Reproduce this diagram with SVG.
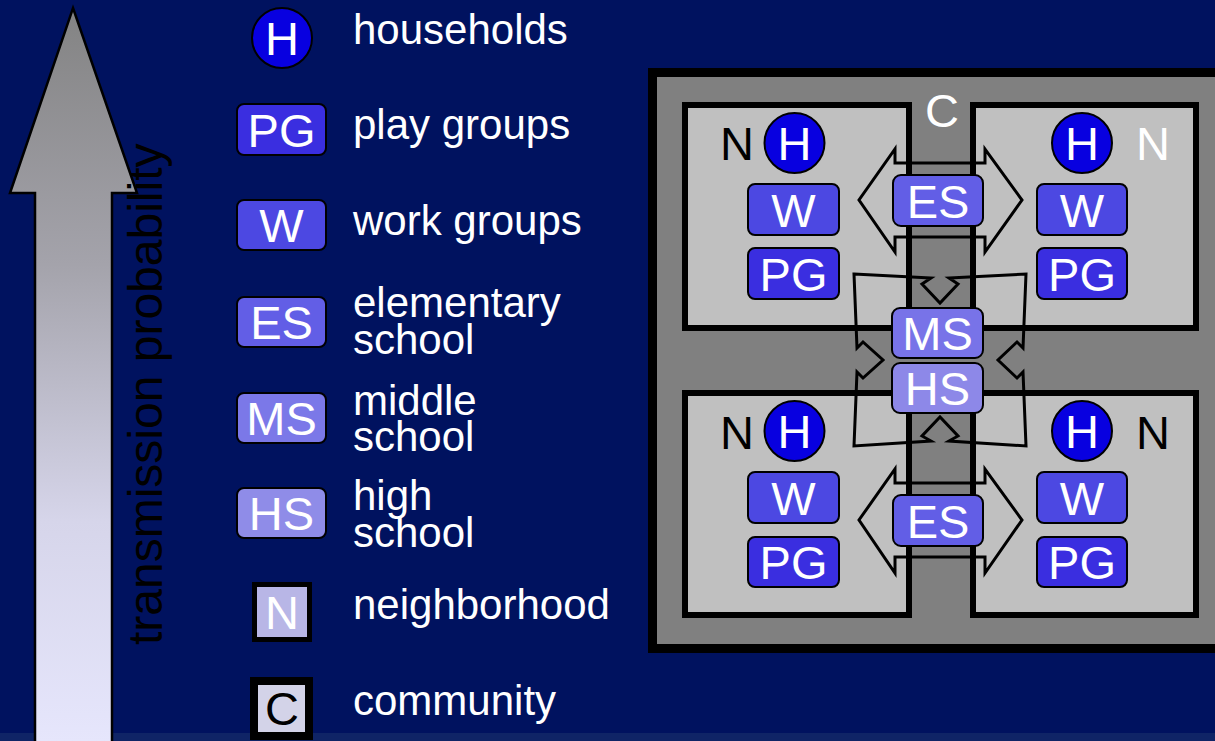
<svg xmlns="http://www.w3.org/2000/svg" width="1215" height="741" viewBox="0 0 1215 741">
<style>
.lbl{font-family:"Liberation Sans",Arial,sans-serif;font-size:42px;fill:#fff}
.nl{font-family:"Liberation Sans",Arial,sans-serif;font-size:47px;fill:#fff;text-anchor:middle}
.blk{fill:#000}
.box{stroke:#000;stroke-width:2}
.nb{fill:#c0c0c0;stroke:#000;stroke-width:6}
.con{fill:none;stroke:#000;stroke-width:3;stroke-linejoin:miter}
</style>
<defs>
<linearGradient id="ag" x1="0" y1="8" x2="0" y2="741" gradientUnits="userSpaceOnUse">
<stop offset="0" stop-color="#838383"/>
<stop offset="0.35" stop-color="#a4a3ab"/>
<stop offset="0.7" stop-color="#d6d5ea"/>
<stop offset="1" stop-color="#e6e6fc"/>
</linearGradient>
</defs>
<rect width="1215" height="741" fill="#00125f"/>
<rect y="733" width="1215" height="8" fill="#0f2466"/>

<g id="prob-arrow">
<polygon points="73,8 137,193 112,193 112,745 35,745 35,193 10,193" fill="url(#ag)" stroke="#000" stroke-width="2.5"/>
<text transform="translate(162,645) rotate(-90)" font-family="Liberation Sans, Arial, sans-serif" font-size="48" fill="#000">transmission probability</text>
</g>

<g id="legend">
<g id="leg-H"><circle cx="282" cy="38" r="30" fill="#0800e0" stroke="#000" stroke-width="2"/><text class="nl" x="282" y="55">H</text><text class="lbl" x="353" y="44">households</text></g>
<g id="leg-PG"><rect class="box" x="237" y="104" width="89" height="51" rx="7" fill="#3a2ee0"/><text class="nl" x="281.5" y="147">PG</text><text class="lbl" x="353" y="139">play groups</text></g>
<g id="leg-W"><rect class="box" x="237" y="200" width="89" height="50" rx="7" fill="#4c48e2"/><text class="nl" x="281.5" y="242">W</text><text class="lbl" x="353" y="235">work groups</text></g>
<g id="leg-ES"><rect class="box" x="237" y="297" width="89" height="50" rx="7" fill="#625ee6"/><text class="nl" x="281.5" y="339">ES</text><text class="lbl" x="353" y="317">elementary</text><text class="lbl" x="353" y="354">school</text></g>
<g id="leg-MS"><rect class="box" x="237" y="393" width="89" height="50" rx="7" fill="#7b78e8"/><text class="nl" x="281.5" y="435">MS</text><text class="lbl" x="353" y="415">middle</text><text class="lbl" x="353" y="451">school</text></g>
<g id="leg-HS"><rect class="box" x="237" y="488" width="89" height="50" rx="7" fill="#8f8ce8"/><text class="nl" x="281.5" y="530">HS</text><text class="lbl" x="353" y="510">high</text><text class="lbl" x="353" y="547">school</text></g>
<g id="leg-N"><rect x="254.5" y="584.5" width="55" height="55" fill="#b8b6e6" stroke="#000" stroke-width="5"/><text class="nl" x="282" y="629">N</text><text class="lbl" x="353" y="619">neighborhood</text></g>
<g id="leg-C"><rect x="254" y="681" width="55" height="55" fill="#d3d3e8" stroke="#000" stroke-width="8"/><text class="nl blk" x="282" y="725">C</text><text class="lbl" x="353" y="715">community</text></g>
</g>

<g id="community">
<rect x="652.5" y="72.5" width="580" height="576" fill="#808080" stroke="#000" stroke-width="9"/>
<text class="nl" x="942" y="127">C</text>
</g>

<g id="nb-tl">
<rect class="nb" x="685" y="105" width="224" height="223"/>
<text class="nl blk" x="737" y="160">N</text>
<circle cx="794.5" cy="143" r="30" fill="#0800e0" stroke="#000" stroke-width="2"/><text class="nl" x="794.5" y="160">H</text>
<rect class="box" x="748" y="184" width="91" height="51" rx="7" fill="#4c48e2"/><text class="nl" x="793.5" y="227">W</text>
<rect class="box" x="748" y="248" width="91" height="51" rx="7" fill="#3a2ee0"/><text class="nl" x="793.5" y="291">PG</text>
</g>
<g id="nb-tr">
<rect class="nb" x="973" y="105" width="223" height="223"/>
<text class="nl" x="1153" y="160">N</text>
<circle cx="1082" cy="143" r="30" fill="#0800e0" stroke="#000" stroke-width="2"/><text class="nl" x="1082" y="160">H</text>
<rect class="box" x="1037" y="184" width="90" height="51" rx="7" fill="#4c48e2"/><text class="nl" x="1082" y="227">W</text>
<rect class="box" x="1037" y="248" width="90" height="51" rx="7" fill="#3a2ee0"/><text class="nl" x="1082" y="291">PG</text>
</g>
<g id="nb-bl">
<rect class="nb" x="685" y="393" width="224" height="222"/>
<text class="nl blk" x="737" y="449">N</text>
<circle cx="794.5" cy="431" r="30" fill="#0800e0" stroke="#000" stroke-width="2"/><text class="nl" x="794.5" y="448">H</text>
<rect class="box" x="748" y="472" width="91" height="51" rx="7" fill="#4c48e2"/><text class="nl" x="793.5" y="515">W</text>
<rect class="box" x="748" y="537" width="91" height="50" rx="7" fill="#3a2ee0"/><text class="nl" x="793.5" y="579">PG</text>
</g>
<g id="nb-br">
<rect class="nb" x="973" y="393" width="223" height="222"/>
<text class="nl blk" x="1153" y="449">N</text>
<circle cx="1082" cy="431" r="30" fill="#0800e0" stroke="#000" stroke-width="2"/><text class="nl" x="1082" y="448">H</text>
<rect class="box" x="1037" y="472" width="90" height="51" rx="7" fill="#4c48e2"/><text class="nl" x="1082" y="515">W</text>
<rect class="box" x="1037" y="537" width="90" height="50" rx="7" fill="#3a2ee0"/><text class="nl" x="1082" y="579">PG</text>
</g>

<g id="connectors">
<polygon class="con" points="895,163 895,149 859,200 895,252 895,237 985,237 985,252 1022,200 985,149 985,163"/>
<polygon class="con" points="895,483 895,469 859,520 895,573 895,557 985,557 985,573 1022,520 985,469 985,483"/>
<polygon class="con" points="854,274 931,278 922,284 940,303 958,284 949,278 1026,274 1023,348 1017,342 998,360 1017,378 1023,372 1026,446 949,441 958,436 940,417 922,436 931,441 854,446 857,372 863,378 883,360 863,342 857,348"/>
</g>

<g id="es-top"><rect class="box" x="893" y="175" width="90" height="51" rx="8" fill="#625ee6"/><text class="nl" x="938" y="218">ES</text></g>
<g id="es-bot"><rect class="box" x="893" y="495" width="90" height="51" rx="8" fill="#625ee6"/><text class="nl" x="938" y="538">ES</text></g>
<g id="ms"><rect class="box" x="892" y="308" width="91" height="50" rx="8" fill="#7873e8"/><text class="nl" x="937.5" y="350">MS</text></g>
<g id="hs"><rect class="box" x="892" y="363" width="91" height="50" rx="8" fill="#8d88e8"/><text class="nl" x="937.5" y="405">HS</text></g>
</svg>
